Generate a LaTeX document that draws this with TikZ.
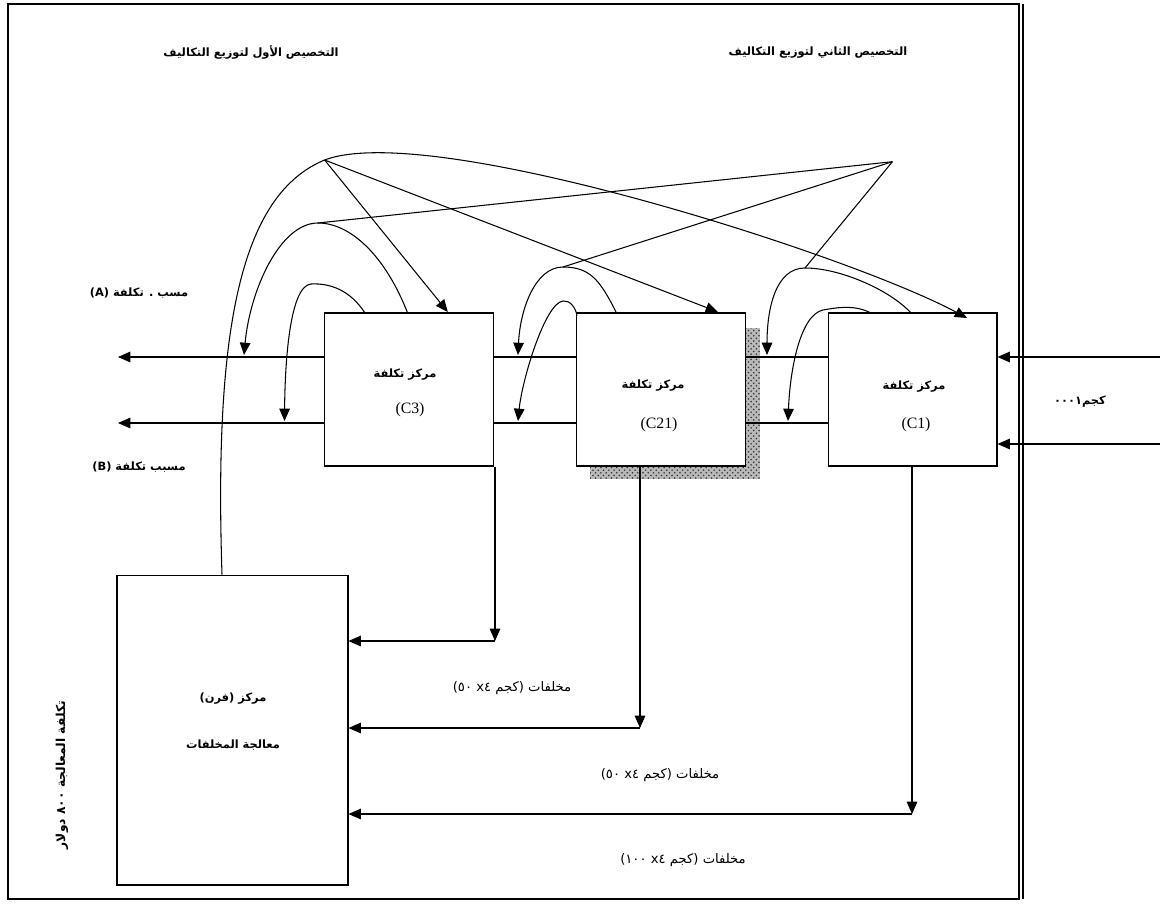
\documentclass[tikz,border=0pt]{standalone}
\usepackage{fontspec}
\setmainfont{Liberation Serif}
\newfontfamily\arabicfont[Script=Arabic]{DejaVu Sans}
\TeXXeTstate=1
\usetikzlibrary{arrows.meta,patterns}
\tikzset{
  ln/.style={line width=0.6pt, draw=black},
  arr/.style={ln, -{Triangle[length=7pt,width=6pt]}},
  box/.style={ln, fill=white, minimum width=#1, inner sep=0pt},
  hdr/.style={font=\arabicfont\bfseries\fontsize{6.5}{8}\selectfont, inner sep=1pt},
  btxt/.style={font=\arabicfont\bfseries\fontsize{6.5}{8}\selectfont, inner sep=1pt},
  ctxt/.style={font=\fontsize{9}{10}\selectfont, inner sep=1pt},
  wtxt/.style={font=\arabicfont\fontsize{7.5}{9}\selectfont, inner sep=1pt},
}
\begin{document}
\begin{tikzpicture}[x=0.02cm,y=-0.02cm]
\useasboundingbox (0,0) rectangle (1175,905);
% frame
\draw[ln] (8,4) rectangle (1019,899);
\draw[ln] (1023,4) -- (1023,899);
% shadow of C21
\fill[gray!55] (590,328) rectangle (760,479);
\fill[pattern=crosshatch dots, pattern color=gray!40!black] (590,328) rectangle (760,479);
% boxes
\node[box=3.38cm, minimum height=3.06cm] (c3) at (409,389.5) {};
\node[box=3.38cm, minimum height=3.06cm] (c21) at (661,389.5) {};
\node[box=3.38cm, minimum height=3.06cm] (c1) at (912.5,389.5) {};
\node[box=4.62cm, minimum height=6.2cm] (w) at (232.5,730) {};
% box texts
\node[btxt] (c3t) at (405,375) {\beginR مركز تكلفة\endR};
\node[ctxt] (c3n) at (410,410) {(C3)};
\node[btxt] (c21t) at (653,386) {\beginR مركز تكلفة\endR};
\node[ctxt] (c21n) at (659,425) {(C21)};
\node[btxt] (c1t) at (914,387) {\beginR مركز تكلفة\endR};
\node[ctxt] (c1n) at (916,425) {(C1)};
\node[btxt] (wt1) at (233,699) {\beginR مركز \hbox{(}\hbox{فرن}\hbox{)}\endR};
\node[btxt] (wt2) at (233,745) {\beginR معالجة المخلفات\endR};
% headers
\node[hdr] (h1) at (251,53) {\beginR التخصيص الأول لتوزيع التكاليف\endR};
\node[hdr] (h2) at (818,53) {\beginR التخصيص الثاني لتوزيع التكاليف\endR};
% driver labels
\node[hdr] (la) at (139,293) {\beginR مسب . تكلفة \hbox{(}\hbox{A}\hbox{)}\endR};
\node[hdr] (lb) at (139,467) {\beginR مسبب تكلفة \hbox{(}\hbox{B}\hbox{)}\endR};
\node[hdr] (kg) at (1080,402) {\beginR\hbox{كجم}\hbox{٠٠٠١}\endR};
% side vertical label
\node[btxt, font=\arabicfont\bfseries\fontsize{7}{9}\selectfont, rotate=90] (side) at (62,775) {\beginR تكلفة المعالجة \hbox{٨٠٠} دولار\endR};
% horizontal flow lines
\coordinate (aL) at (118,357);
\coordinate (bL) at (118,423);
\coordinate (aR) at (1160,357);
\coordinate (bR) at (1160,444);
\draw[arr] (c3.west |- aL) -- (aL);
\draw[arr] (c3.west |- bL) -- (bL);
\draw[ln] (c3.east |- aL) -- (c21.west |- aL);
\draw[ln] (c3.east |- bL) -- (c21.west |- bL);
\draw[ln] (c21.east |- aL) -- (c1.west |- aL);
\draw[ln] (c21.east |- bL) -- (c1.west |- bL);
\draw[arr] (aR) -- (c1.east |- aR);
\draw[arr] (bR) -- (c1.east |- bR);
% waste flows
\coordinate (d3) at (495,641);
\coordinate (d21) at (640,728);
\coordinate (d1) at (912,814);
\draw[arr] (c3.south -| d3) -- (d3);
\draw[arr] (d3) -- (w.east |- d3);
\draw[arr] (c21.south -| d21) -- (d21);
\draw[arr] (d21) -- (w.east |- d21);
\draw[arr] (c1.south -| d1) -- (d1);
\draw[arr] (d1) -- (w.east |- d1);
\node[wtxt] (l1) at (512,688) {\beginR\hbox{مخلفات} \hbox{(}\hbox{كجم} \hbox{x٤} \hbox{٥٠}\hbox{)}\endR};
\node[wtxt] (l2) at (660,775) {\beginR\hbox{مخلفات} \hbox{(}\hbox{كجم} \hbox{x٤} \hbox{٥٠}\hbox{)}\endR};
\node[wtxt] (l3) at (683,860) {\beginR\hbox{مخلفات} \hbox{(}\hbox{كجم} \hbox{x٤} \hbox{١٠٠}\hbox{)}\endR};
% hubs and junctions
\coordinate (H1) at (324.6,160);
\coordinate (H2) at (892.4,161.7);
\coordinate (J3) at (318,223);
\coordinate (J21) at (563,267);
\coordinate (J1) at (805,268);
% first allocation: waste cost to the centres
\draw[arr] (w.north -| 222,0) .. controls (214,330) and (240,195) .. (H1)
  .. controls (430,120) and (850,255) .. (967,318);
\draw[arr] (H1) -- (447.8,312);
\draw[arr] (H1) -- (718,312);
% second allocation: centres to driver A
\draw[arr] (407.6,313) .. controls (385,255) and (350,223) .. (J3)
  .. controls (280,223) and (250,290) .. (244,355);
\draw[arr] (616.5,313) .. controls (600,280) and (590,267) .. (J21)
  .. controls (535,267) and (520,310) .. (518,355);
\draw[arr] (911,313) .. controls (890,290) and (840,268) .. (J1)
  .. controls (775,268) and (767,310) .. (767,355);
\draw[ln] (H2) -- (J3);
\draw[ln] (H2) -- (J21);
\draw[ln] (H2) -- (J1);
% centres to driver B
\draw[arr] (365,313) .. controls (350,290) and (330,283) .. (311,284)
  .. controls (290,286) and (285,360) .. (284.5,421);
\draw[arr] (577,316) .. controls (576,308) and (570,300) .. (563,301)
  .. controls (545,303) and (522,380) .. (518,421);
\draw[arr] (871,313) .. controls (855,305) and (840,307) .. (823,310)
  .. controls (800,315) and (790,370) .. (788,421);
\end{tikzpicture}
\end{document}
